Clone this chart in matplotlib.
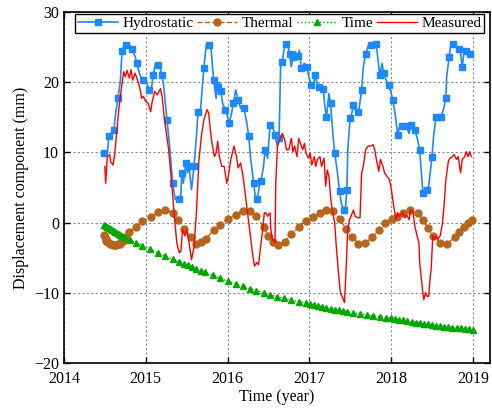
"""
Displacement components of the dam monitoring point (hydrostatic, thermal, time, measured)
"""

import numpy as np
import matplotlib
matplotlib.use("Agg")
import matplotlib.pyplot as plt

plt.rcParams['font.family'] = ['Liberation Serif', 'DejaVu Serif']
plt.rcParams['mathtext.fontset'] = 'stix'

# hydrostatic component (mm)
hyd_t = [2014.49, 2014.53, 2014.55, 2014.58, 2014.61, 2014.63, 2014.66, 2014.69, 2014.71, 2014.73,
         2014.76, 2014.80, 2014.83, 2014.87, 2014.89, 2014.93, 2014.97, 2015.01, 2015.04, 2015.07,
         2015.09, 2015.12, 2015.15, 2015.18, 2015.20, 2015.22, 2015.26, 2015.29, 2015.33, 2015.36,
         2015.41, 2015.43, 2015.44, 2015.46, 2015.49, 2015.51, 2015.53, 2015.56, 2015.59, 2015.62,
         2015.64, 2015.67, 2015.71, 2015.74, 2015.77, 2015.80, 2015.83, 2015.86, 2015.88, 2015.90,
         2015.92, 2015.94, 2015.97, 2016.00, 2016.02, 2016.05, 2016.07, 2016.10, 2016.13, 2016.16,
         2016.20, 2016.23, 2016.26, 2016.28, 2016.32, 2016.34, 2016.36, 2016.39, 2016.41, 2016.44,
         2016.46, 2016.49, 2016.52, 2016.55, 2016.58, 2016.61, 2016.63, 2016.65, 2016.67, 2016.69,
         2016.72, 2016.74, 2016.76, 2016.78, 2016.80, 2016.83, 2016.86, 2016.88, 2016.90, 2016.94,
         2016.97, 2016.99, 2017.02, 2017.05, 2017.07, 2017.09, 2017.12, 2017.14, 2017.17, 2017.19,
         2017.21, 2017.24, 2017.26, 2017.29, 2017.31, 2017.34, 2017.37, 2017.39, 2017.42, 2017.44,
         2017.46, 2017.47, 2017.50, 2017.52, 2017.54, 2017.57, 2017.59, 2017.61, 2017.64, 2017.66,
         2017.69, 2017.72, 2017.76, 2017.79, 2017.82, 2017.84, 2017.86, 2017.89, 2017.91, 2017.94,
         2017.97, 2018.00, 2018.02, 2018.05, 2018.08, 2018.10, 2018.13, 2018.17, 2018.19, 2018.22,
         2018.24, 2018.27, 2018.29, 2018.32, 2018.35, 2018.37, 2018.39, 2018.41, 2018.44, 2018.46,
         2018.50, 2018.52, 2018.55, 2018.58, 2018.61, 2018.64, 2018.67, 2018.68, 2018.71, 2018.73,
         2018.76, 2018.80, 2018.83, 2018.85, 2018.87, 2018.89, 2018.92, 2018.94, 2018.97, 2018.99]
hyd_v = [9.9, 9.9, 12.3, 12.7, 13.2, 15.4, 17.7, 20.2, 24.4, 25.1,
         25.3, 25.4, 24.7, 23.7, 22.7, 21.0, 20.3, 20.1, 18.9, 19.1,
         21.0, 22.7, 22.5, 21.8, 21.0, 19.4, 14.6, 11.1, 5.6, 3.3,
         3.3, 4.0, 7.1, 5.6, 8.5, 7.1, 8.0, 4.7, 8.0, 12.3,
         15.8, 16.1, 22.0, 25.3, 25.3, 24.6, 20.3, 17.7, 19.4, 20.0,
         18.7, 17.0, 16.1, 15.1, 14.2, 15.6, 17.0, 18.9, 17.5, 16.3,
         16.3, 14.6, 12.3, 9.4, 5.6, 3.5, 3.3, 5.2, 5.9, 8.0,
         10.4, 9.2, 13.9, 13.7, 12.5, 10.9, 12.0, 22.7, 22.9, 24.6,
         25.5, 25.1, 24.1, 22.2, 23.6, 24.4, 23.7, 24.6, 22.0, 22.7,
         22.2, 21.0, 19.6, 19.4, 21.0, 20.1, 19.4, 18.9, 19.1, 16.5,
         15.1, 18.4, 17.0, 12.5, 9.9, 7.5, 4.5, 2.8, 1.8, 1.8,
         4.7, 10.4, 14.9, 15.6, 16.8, 15.8, 15.8, 16.3, 18.9, 22.2,
         24.1, 25.2, 25.3, 25.5, 25.4, 23.2, 21.0, 22.7, 21.3, 20.3,
         19.6, 18.5, 17.5, 15.5, 12.5, 13.5, 13.8, 13.9, 13.7, 12.7,
         13.9, 13.9, 13.2, 12.0, 10.4, 7.1, 4.2, 4.5, 4.7, 5.2,
         9.4, 12.3, 15.1, 15.1, 15.1, 16.1, 17.7, 20.8, 23.6, 25.3,
         25.5, 25.1, 24.8, 24.1, 22.2, 24.1, 24.4, 23.9, 24.1, 24.0]

# measured displacement (mm)
meas_t = [2014.50, 2014.51, 2014.53, 2014.56, 2014.57, 2014.60, 2014.62, 2014.65, 2014.67, 2014.70,
          2014.73, 2014.75, 2014.77, 2014.80, 2014.82, 2014.84, 2014.87, 2014.90, 2014.93, 2014.95,
          2014.97, 2015.00, 2015.03, 2015.06, 2015.08, 2015.11, 2015.14, 2015.18, 2015.20, 2015.23,
          2015.28, 2015.32, 2015.35, 2015.38, 2015.41, 2015.43, 2015.45, 2015.48, 2015.50, 2015.53,
          2015.56, 2015.59, 2015.62, 2015.65, 2015.68, 2015.71, 2015.75, 2015.77, 2015.79, 2015.81,
          2015.84, 2015.86, 2015.88, 2015.90, 2015.93, 2015.96, 2015.99, 2016.01, 2016.04, 2016.08,
          2016.11, 2016.13, 2016.16, 2016.19, 2016.22, 2016.25, 2016.28, 2016.31, 2016.33, 2016.36,
          2016.38, 2016.41, 2016.43, 2016.45, 2016.47, 2016.49, 2016.52, 2016.53, 2016.55, 2016.58,
          2016.59, 2016.61, 2016.64, 2016.67, 2016.70, 2016.72, 2016.75, 2016.78, 2016.80, 2016.82,
          2016.85, 2016.87, 2016.89, 2016.92, 2016.94, 2016.96, 2016.99, 2017.01, 2017.03, 2017.06,
          2017.08, 2017.10, 2017.13, 2017.15, 2017.18, 2017.20, 2017.22, 2017.24, 2017.26, 2017.28,
          2017.31, 2017.33, 2017.36, 2017.38, 2017.40, 2017.43, 2017.45, 2017.47, 2017.49, 2017.51,
          2017.54, 2017.56, 2017.59, 2017.62, 2017.64, 2017.66, 2017.69, 2017.72, 2017.75, 2017.78,
          2017.80, 2017.82, 2017.85, 2017.87, 2017.90, 2017.92, 2017.95, 2017.98, 2018.00, 2018.03,
          2018.06, 2018.08, 2018.10, 2018.14, 2018.17, 2018.19, 2018.22, 2018.24, 2018.27, 2018.29,
          2018.31, 2018.34, 2018.35, 2018.38, 2018.40, 2018.42, 2018.44, 2018.46, 2018.48, 2018.49,
          2018.51, 2018.53, 2018.55, 2018.57, 2018.60, 2018.63, 2018.65, 2018.67, 2018.70, 2018.72,
          2018.75, 2018.77, 2018.80, 2018.82, 2018.85, 2018.87, 2018.90, 2018.92, 2018.94, 2018.96,
          2018.98]
meas_v = [8.0, 5.6, 9.4, 9.7, 8.7, 8.2, 9.7, 13.5, 16.1, 18.9,
          21.5, 20.8, 21.7, 20.6, 21.8, 20.3, 21.3, 20.3, 19.1, 17.7,
          18.0, 17.3, 17.0, 15.8, 17.3, 18.7, 18.2, 19.1, 18.0, 14.6,
          10.4, 5.2, 0.9, -2.9, -4.3, -4.1, -1.0, -1.9, -1.0, -2.9,
          -5.3, -3.5, 1.5, 8.8, 12.3, 14.6, 16.1, 15.6, 13.2, 11.3,
          9.4, 9.9, 11.6, 9.4, 8.0, 8.0, 5.6, 6.6, 9.0, 10.9,
          9.4, 7.8, 8.5, 6.6, 3.7, 0.9, -1.9, -4.8, -6.2, -5.7,
          -6.0, -2.9, -1.0, 1.4, 1.4, 0.9, 1.4, -1.0, -2.4, -2.9,
          5.6, 10.9, 11.8, 12.7, 11.8, 10.4, 10.4, 12.0, 10.1, 10.9,
          9.4, 12.0, 11.3, 10.4, 11.3, 9.9, 9.2, 9.9, 8.2, 9.4,
          8.0, 9.0, 9.4, 8.0, 9.2, 5.2, 7.5, 6.6, 3.7, 1.8,
          0.0, -3.4, -7.6, -10.0, -10.5, -11.4, -6.7, -1.0, 0.4, 0.9,
          1.8, 0.9, 0.7, 0.7, 7.1, 8.0, 10.4, 10.9, 10.9, 11.1,
          10.4, 9.0, 7.3, 9.0, 8.0, 7.1, 6.6, 6.1, 5.0, 2.5,
          0.5, 1.4, 0.9, 1.4, 0.7, 1.1, 0.4, 1.8, 1.4, -0.5,
          -1.5, -2.9, -5.7, -9.1, -11.0, -10.0, -10.5, -10.5, -7.6, -6.7,
          -1.9, -2.4, -1.9, -2.4, -1.9, 0.0, 2.8, 6.1, 8.7, 9.2,
          9.4, 9.7, 9.0, 9.4, 7.1, 9.0, 9.4, 10.1, 9.4, 10.1,
          9.4]

# thermal component (mm)
therm_t = [2014.49, 2014.50, 2014.51, 2014.52, 2014.54, 2014.56, 2014.58, 2014.60, 2014.62, 2014.64,
           2014.66, 2014.68, 2014.70, 2014.72, 2014.74, 2014.76, 2014.80, 2014.88, 2014.96, 2015.06,
           2015.15, 2015.24, 2015.33, 2015.40, 2015.47, 2015.55, 2015.61, 2015.68, 2015.74, 2015.83,
           2015.91, 2016.00, 2016.10, 2016.19, 2016.27, 2016.35, 2016.44, 2016.50, 2016.56, 2016.62,
           2016.70, 2016.78, 2016.87, 2016.96, 2017.05, 2017.13, 2017.21, 2017.29, 2017.37, 2017.45,
           2017.52, 2017.60, 2017.68, 2017.77, 2017.85, 2017.93, 2018.01, 2018.07, 2018.15, 2018.23,
           2018.33, 2018.39, 2018.45, 2018.51, 2018.60, 2018.68, 2018.78, 2018.83, 2018.89, 2018.94,
           2018.99]
therm_v = [-1.8, -2.1, -2.4, -2.6, -2.8, -3.0, -3.1, -3.2, -3.2, -3.2,
           -3.1, -3.0, -2.8, -2.6, -2.3, -2.0, -1.4, -0.6, 0.2, 0.8,
           1.5, 1.8, 1.4, 0.3, -0.9, -2.0, -3.0, -2.8, -2.3, -1.1,
           -0.3, 0.5, 1.1, 1.7, 1.7, 0.9, -0.6, -1.9, -2.7, -3.2,
           -2.7, -1.7, -0.6, 0.2, 0.8, 1.4, 1.8, 1.7, 0.5, -0.9,
           -2.0, -3.0, -2.95, -2.1, -1.0, -0.1, 0.5, 0.8, 1.4, 1.8,
           1.3, 0.4, -0.8, -1.9, -2.95, -3.05, -2.1, -1.3, -0.6, -0.1,
           0.3]

# time-effect component (mm)
time_t = [2014.49, 2014.51, 2014.53, 2014.55, 2014.57, 2014.59, 2014.61, 2014.63, 2014.65, 2014.67,
          2014.69, 2014.71, 2014.73, 2014.75, 2014.81, 2014.88, 2014.96, 2015.05, 2015.15, 2015.24,
          2015.33, 2015.41, 2015.47, 2015.52, 2015.57, 2015.62, 2015.68, 2015.73, 2015.82, 2015.91,
          2016.00, 2016.10, 2016.19, 2016.27, 2016.35, 2016.44, 2016.52, 2016.60, 2016.69, 2016.78,
          2016.87, 2016.96, 2017.01, 2017.06, 2017.11, 2017.16, 2017.21, 2017.26, 2017.31, 2017.36,
          2017.41, 2017.46, 2017.54, 2017.62, 2017.70, 2017.78, 2017.86, 2017.94, 2018.00, 2018.05,
          2018.10, 2018.15, 2018.20, 2018.25, 2018.30, 2018.35, 2018.40, 2018.45, 2018.50, 2018.55,
          2018.60, 2018.65, 2018.70, 2018.75, 2018.80, 2018.85, 2018.90, 2018.95, 2019.00]
time_v = [-0.3, -0.45, -0.6, -0.75, -0.9, -1.05, -1.2, -1.35, -1.5, -1.65,
          -1.8, -1.95, -2.1, -2.25, -2.5, -2.85, -3.3, -3.8, -4.35, -4.8,
          -5.25, -5.65, -5.9, -6.1, -6.35, -6.6, -6.85, -7.1, -7.5, -7.95,
          -8.35, -8.75, -9.1, -9.4, -9.7, -10.0, -10.3, -10.55, -10.8, -11.05,
          -11.3, -11.5, -11.65, -11.8, -11.9, -12.05, -12.15, -12.3, -12.4, -12.5,
          -12.6, -12.7, -12.85, -13.0, -13.15, -13.3, -13.45, -13.55, -13.65, -13.75,
          -13.85, -13.95, -14.05, -14.15, -14.25, -14.35, -14.45, -14.5, -14.6, -14.7,
          -14.75, -14.85, -14.9, -15.0, -15.05, -15.1, -15.15, -15.2, -15.3]

year_ticks = [2014, 2015, 2016, 2017, 2018, 2019]
mm_ticks = [-20, -10, 0, 10, 20, 30]

fig = plt.figure(figsize=(4.92, 4.19), dpi=100)
ax = fig.add_axes([0.130, 0.134, 0.866, 0.837])

ax.plot(hyd_t, hyd_v, color='#1E88FF', lw=1.2, marker='s', ms=4, markevery=2,
        label='Hydrostatic', zorder=3)
ax.plot(therm_t, therm_v, color='#B5651D', lw=1.0, ls='--', marker='o', ms=5,
        label='Thermal', zorder=3)
ax.plot(time_t, time_v, color='#00A800', lw=1.0, ls=':', marker='^', ms=5,
        label='Time', zorder=3)
ax.plot(meas_t, meas_v, color='#FF0000', lw=1.0, label='Measured', zorder=4)

ax.set_xlim(2014, 2019.21)
ax.set_ylim(-20, 30)
ax.set_xticks(year_ticks)
ax.set_yticks(mm_ticks)
ax.tick_params(direction='in', top=True, right=True, length=4, width=1, labelsize=11.5)
ax.tick_params(axis='x', pad=6)
for s in ax.spines.values():
    s.set_linewidth(1.2)

ax.grid(True, color='#8c8c8c', ls=(0, (2, 2)), lw=0.8)
ax.set_axisbelow(True)

ax.set_xlabel('Time (year)', fontsize=11.5, labelpad=1)
ax.set_ylabel('Displacement component (mm)', fontsize=11.5, labelpad=4)

leg = ax.legend(loc='upper left', bbox_to_anchor=(0.022, 1.0, 0.968, 0.0), mode='expand',
                ncol=4, fontsize=11, frameon=True, fancybox=False, framealpha=1,
                edgecolor='black', handlelength=2.6, handletextpad=0.3, columnspacing=0.5,
                borderpad=0.2, borderaxespad=0.1)
leg.get_frame().set_linewidth(1.0)

fig.savefig('out.png', dpi=100)
